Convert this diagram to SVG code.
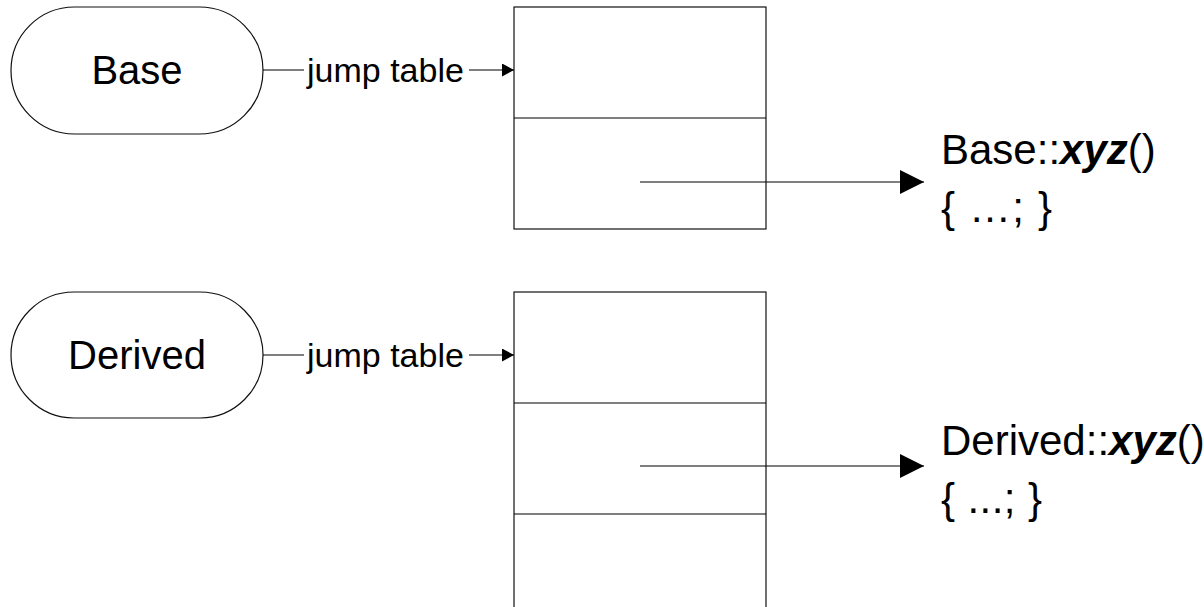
<svg xmlns="http://www.w3.org/2000/svg" width="1204" height="607" viewBox="0 0 1204 607">
  <defs>
    <marker id="bigArrow" markerUnits="userSpaceOnUse" markerWidth="24" markerHeight="24" refX="24" refY="12" orient="auto" viewBox="0 0 24 24">
      <path d="M0,0 L24,12 L0,24 z" fill="#000"/>
    </marker>
    <marker id="smallArrow" markerUnits="userSpaceOnUse" markerWidth="12" markerHeight="13" refX="12" refY="6.5" orient="auto" viewBox="0 0 12 13">
      <path d="M0,0 L12,6.5 L0,13 z" fill="#000"/>
    </marker>
  </defs>
  <style>
    .shape { fill: #fff; stroke: #111; stroke-width: 1.2; }
    .line { fill: none; stroke: #000; stroke-width: 1.2; }
    .label { font-family: "Liberation Sans", Arial, sans-serif; fill: #000; }
    .pill { font-size: 40px; text-anchor: middle; }
    .edge { font-size: 34px; }
    .func { font-size: 42px; }
    .em { font-weight: bold; font-style: italic; }
  </style>
  <rect width="1204" height="607" fill="#fff"/>

  <g id="node-base">
    <rect class="shape" x="11" y="7" width="252" height="127" rx="63.5" ry="63.5"/>
    <text class="label pill" x="137" y="83.5">Base</text>
  </g>

  <g id="node-derived">
    <rect class="shape" x="11" y="292" width="252" height="126" rx="63" ry="63"/>
    <text class="label pill" x="137" y="368.5">Derived</text>
  </g>

  <g id="node-base-table">
    <rect class="shape" x="514" y="7" width="252" height="222"/>
    <line class="line" x1="514" y1="118" x2="766" y2="118"/>
  </g>

  <g id="node-derived-table">
    <rect class="shape" x="514" y="292" width="252" height="333"/>
    <line class="line" x1="514" y1="403" x2="766" y2="403"/>
    <line class="line" x1="514" y1="514" x2="766" y2="514"/>
  </g>

  <g id="node-base-xyz">
    <text class="label func" x="941" y="164">Base::<tspan class="em">xyz</tspan>()</text>
    <text class="label func" x="941" y="222" textLength="111" lengthAdjust="spacing">{ …; }</text>
  </g>

  <g id="node-derived-xyz">
    <text class="label func" x="941" y="455">Derived::<tspan class="em">xyz</tspan>()</text>
    <text class="label func" x="941" y="513" textLength="101" lengthAdjust="spacing">{ ...; }</text>
  </g>

  <g id="connectors">
    <line class="line" x1="263" y1="70" x2="304" y2="70"/>
    <text class="label edge" x="307" y="82">jump table</text>
    <line class="line" x1="469" y1="70" x2="514" y2="70" marker-end="url(#smallArrow)"/>

    <line class="line" x1="263" y1="355" x2="304" y2="355"/>
    <text class="label edge" x="307" y="367">jump table</text>
    <line class="line" x1="469" y1="355" x2="514" y2="355" marker-end="url(#smallArrow)"/>

    <line class="line" x1="640" y1="182" x2="924" y2="182" marker-end="url(#bigArrow)"/>
    <line class="line" x1="640" y1="466" x2="924" y2="466" marker-end="url(#bigArrow)"/>
  </g>
</svg>
